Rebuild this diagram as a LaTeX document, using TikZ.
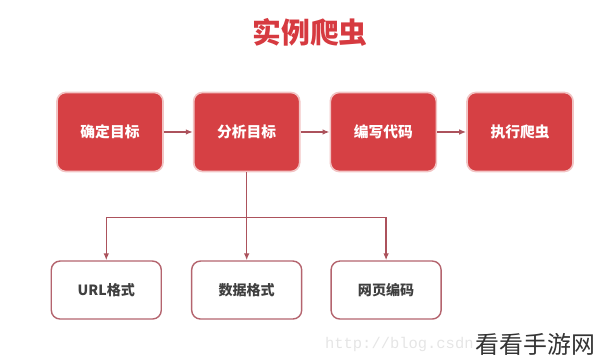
\documentclass[tikz,border=0pt]{standalone}
\usepackage{fontspec}
\setmainfont{Noto Sans CJK SC}
\newfontfamily\urlfont{Liberation Mono}
\usetikzlibrary{arrows.meta,positioning}
\definecolor{spred}{RGB}{214,64,68}
\definecolor{sppink}{RGB}{242,196,196}
\definecolor{spline}{RGB}{172,82,92}
\definecolor{spframe}{RGB}{180,100,110}
\definecolor{sptitle}{RGB}{214,58,64}

\begin{document}
\begin{tikzpicture}[
    every node/.style={font=\bfseries},
    stagebox/.style={rectangle,rounded corners=0.22cm,fill=spred,draw=sppink,line width=1.2pt,
      minimum width=2.65cm,minimum height=1.975cm,text=white,font=\bfseries\fontsize{10.5}{12}\selectfont},
    itembox/.style={rectangle,rounded corners=0.22cm,fill=white,draw=spframe,line width=1pt,
      minimum width=2.75cm,minimum height=1.45cm,text=black!75,font=\bfseries\fontsize{10}{12}\selectfont},
    link/.style={draw=spline,line width=1pt,-{Latex[length=5pt,width=4pt]}},
    trunk/.style={draw=spline,line width=1pt}
  ]
  \useasboundingbox (0,0) rectangle (15,9.075);
  % Title
  \node[text=sptitle,font=\bfseries\fontsize{20.5}{24}\selectfont] (title) at (7.75,8.275) {实例爬虫};
  % Main steps
  \node[stagebox] (goal) at (2.75,5.775) {确定目标};
  \node[stagebox,right=0.725cm of goal] (analyse) {分析目标};
  \node[stagebox,right=0.725cm of analyse] (code) {编写代码};
  \node[stagebox,right=0.725cm of code] (run) {执行爬虫};
  \draw[link] (goal) -- (analyse);
  \draw[link] (analyse) -- (code);
  \draw[link] (code) -- (run);
  % Sub items of the analysis
  \node[itembox,below=2.2cm of analyse] (data) {数据格式};
  \node[itembox,left=0.725cm of data] (url) {URL格式};
  \node[itembox,right=0.7cm of data] (page) {网页编码};
  \coordinate[below=1.125cm of analyse.south] (split);
  \draw[trunk] (analyse.south) -- (split);
  \draw[link] (split) -| (url.north);
  \draw[link] (split) -- (data.north);
  \draw[link] (split) -| (page.north);
  % Watermarks
  \node[font=\urlfont\fontsize{11}{12}\selectfont,text=black!10] (csdn) at (10.1,0.47) {http://blog.csdn.};
  \node[font=\fontsize{17}{20}\selectfont,text=black!80] (mark) at (13.38,0.47) {看看手游网};
\end{tikzpicture}
\end{document}
